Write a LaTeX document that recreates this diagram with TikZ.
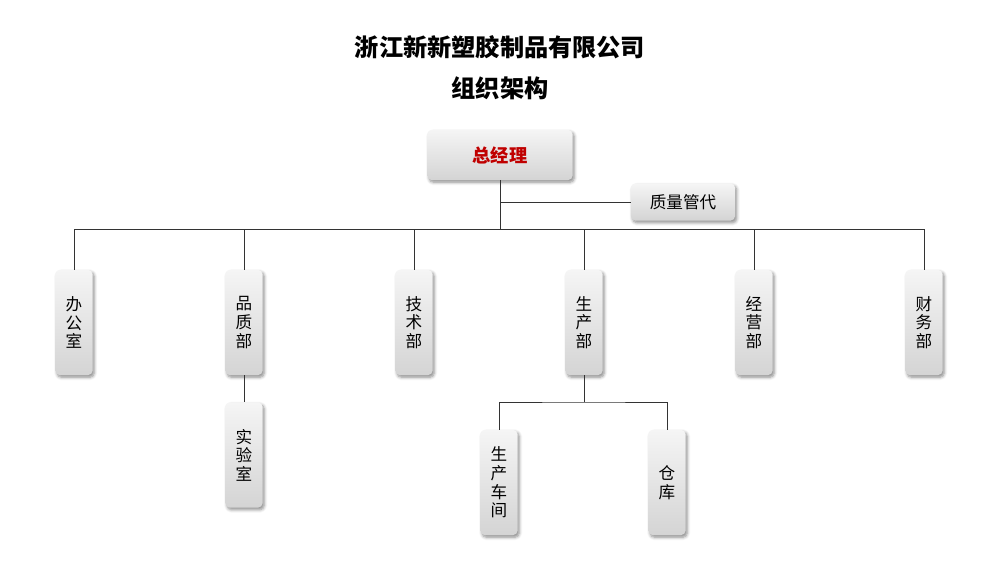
\documentclass[tikz,border=0pt]{standalone}
\usepackage{fontspec}
\setmainfont{Noto Sans CJK SC}
\usetikzlibrary{shadows.blur}
\definecolor{gmred}{HTML}{C00000}
\definecolor{boxtop}{HTML}{F5F5F5}
\definecolor{boxbot}{HTML}{D4D4D4}
\tikzset{
  unit/.style={rounded corners=3pt, top color=boxtop, bottom color=boxbot, inner sep=0pt, align=center,
    blur shadow={shadow xshift=1.2pt, shadow yshift=-1.6pt, shadow blur steps=5, shadow opacity=45}},
  dept/.style={unit, minimum width=0.925cm, minimum height=2.625cm},
  link/.style={draw=black!80, line width=0.6pt}
}
\begin{document}
\begin{tikzpicture}[x=0.025cm, y=-0.025cm, font=\fontsize{11.8}{13.2}\selectfont]
\useasboundingbox (0,0) rectangle (1000,585);
\node[font=\fontsize{17.2}{19}\selectfont\bfseries] (title) at (500,47) {浙江新新塑胶制品有限公司};
\node[font=\fontsize{17.2}{19}\selectfont\bfseries] (subtitle) at (500,88) {组织架构};
% top level
\node[unit, minimum width=3.625cm, minimum height=1.25cm, font=\fontsize{13}{15}\selectfont\bfseries, text=gmred] (gm) at (500,155) {总经理};
\node[unit, minimum width=2.6cm, minimum height=0.925cm] (qm) at (683,202) {质量管代};
% departments
\foreach \n/\x/\t in {office/74/办\\公\\室, quality/244/品\\质\\部, tech/414/技\\术\\部, prod/584/生\\产\\部, sales/754/经\\营\\部, finance/924/财\\务\\部}{
\node[dept] (\n) at (\x,322.5) {\t};
}
\node[dept] (lab) at (244,455) {实\\验\\室};
\node[dept] (workshop) at (499,482.5) {生\\产\\车\\间};
\node[dept] (store) at (667,482.5) {仓\\库};
% connectors
\coordinate (bus) at (500,229);
\coordinate (pbus) at (584,402);
\draw[link] (gm.south) -- (bus);
\draw[link] (gm |- qm.west) -- (qm.west);
\draw[link] (office |- bus) -- (finance |- bus);
\foreach \n in {office,quality,tech,prod,sales,finance}{
\draw[link] (\n |- bus) -- (\n.north);
}
\draw[link] (quality) -- (lab);
\draw[link] (prod.south) -- (pbus);
\draw[link] (workshop.north) |- (pbus) -| (store.north);
\end{tikzpicture}
\end{document}
